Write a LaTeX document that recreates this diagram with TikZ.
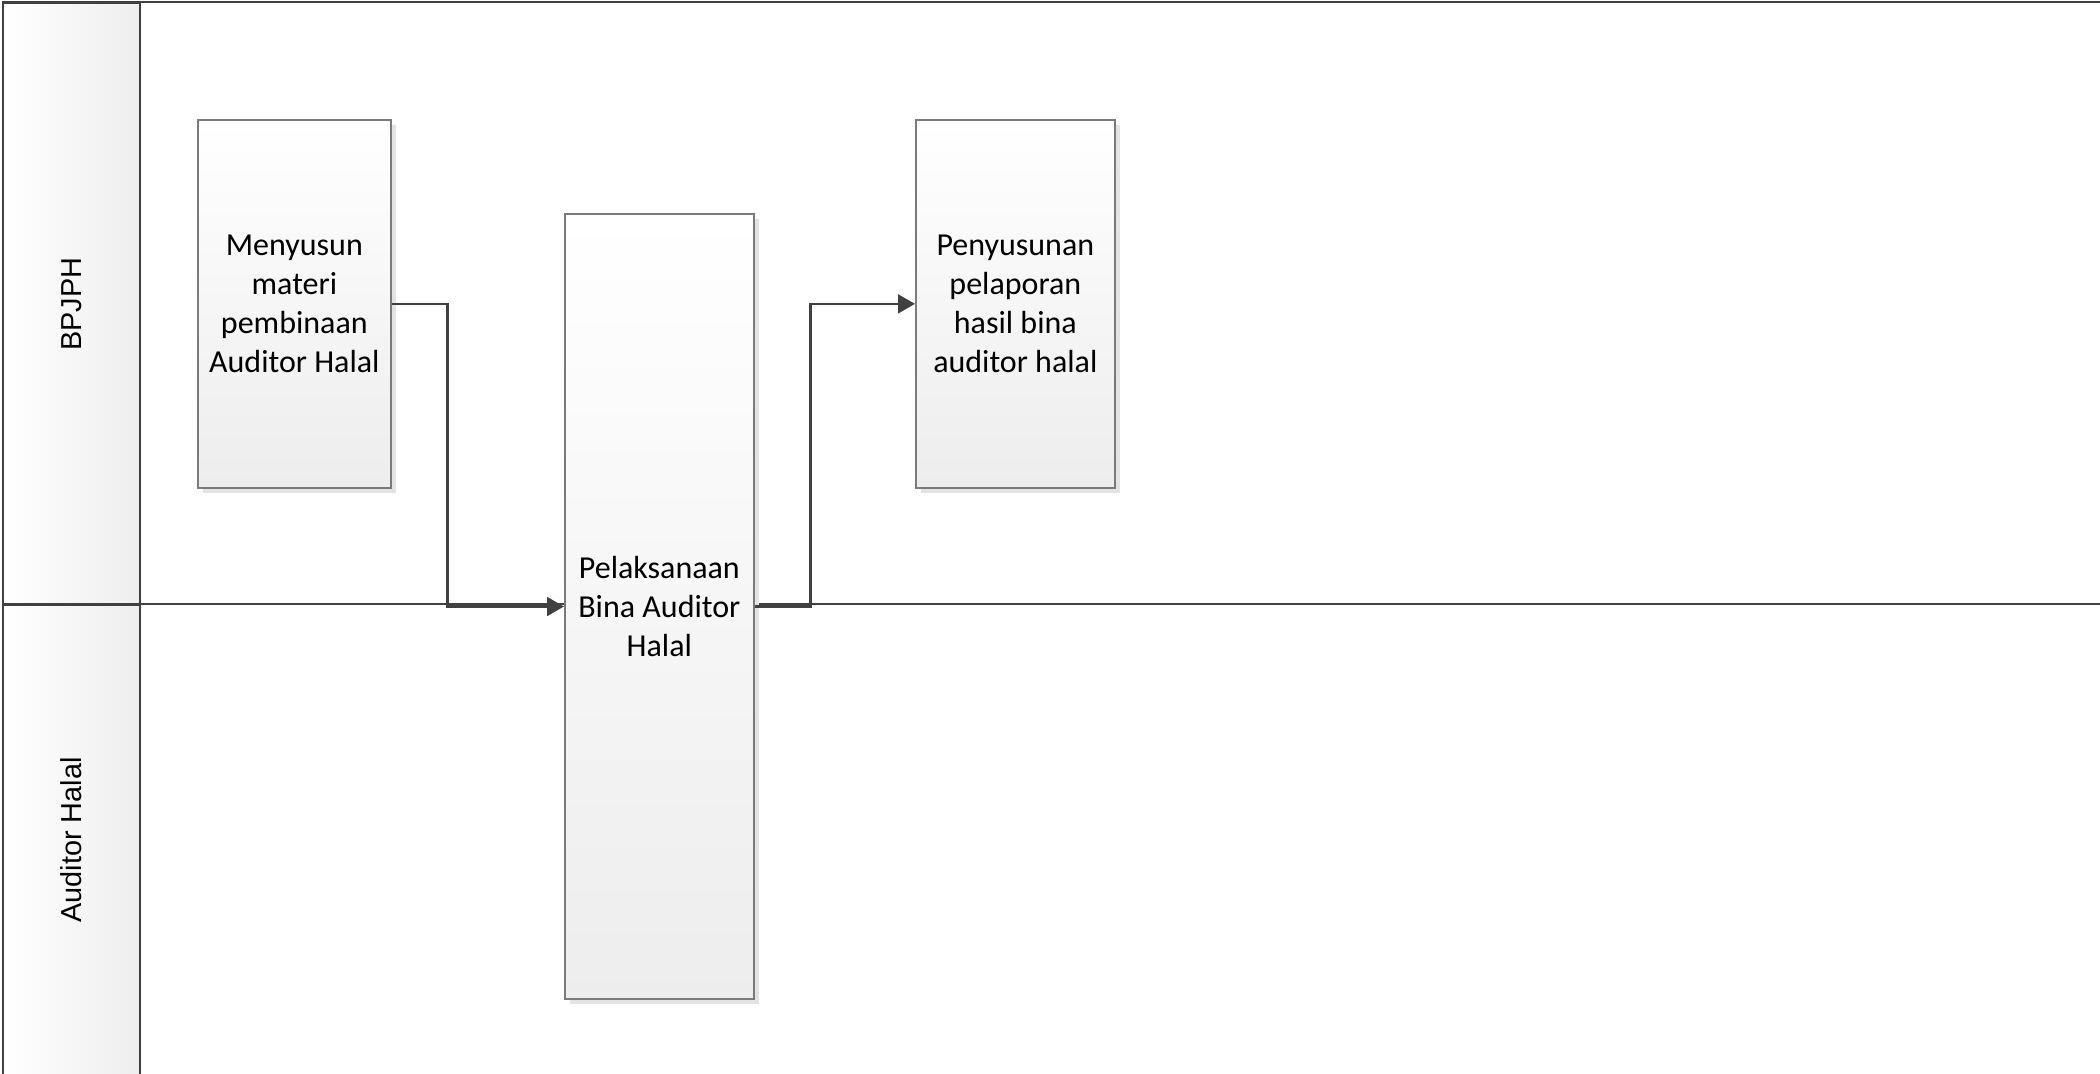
\documentclass[tikz,border=0pt]{standalone}
\usepackage{fontspec}
\setmainfont{Carlito}
\newfontfamily\lanefont{Liberation Sans}
\usepackage{tikz}
\usetikzlibrary{arrows.meta,positioning,shadows}
\definecolor{linegray}{HTML}{404040}
\definecolor{boxgray}{HTML}{7A7A7A}
\definecolor{boxfill}{HTML}{EDEDED}
\definecolor{lanegray}{HTML}{EEEEEE}
\definecolor{shadowgray}{HTML}{E3E3E3}

\begin{document}
\begin{tikzpicture}[
    x=0.01cm, y=-0.01cm,
    lane/.style={draw=linegray, line width=0.6pt, left color=white, right color=lanegray, minimum width=1.37cm, inner sep=0pt, anchor=north west},
    lanetext/.style={rotate=90, font=\lanefont\fontsize{8.2}{10}\selectfont},
    task/.style={draw=boxgray, line width=0.45pt, top color=white, bottom color=boxfill, align=center, inner sep=0pt, anchor=north west,
      font=\fontsize{9.1}{11.1}\selectfont,
      drop shadow={shadow xshift=0.05cm, shadow yshift=-0.05cm, fill=shadowgray, opacity=1}},
    arr/.style={-{Triangle[length=4.8pt, width=5.3pt]}, line width=0.75pt, draw=linegray}
  ]
    \useasboundingbox (0,0) rectangle (2100,1074);
    \clip (0,0) rectangle (2100,1074);

    % swimlanes
    \node[lane, minimum height=6.02cm] (bpjph) at (2,2) {};
    \node[lane, minimum height=4.8cm] (auditor) at (2,604) {};
    \node[lanetext] (bpjphlbl) at (bpjph.center) {BPJPH};
    \node[lanetext] (auditorlbl) at (71,840) {Auditor Halal};
    \draw[draw=linegray, line width=0.6pt] (bpjph.north west) -- (2100,2);
    \draw[draw=linegray, line width=0.6pt] (auditor.north west) -- (2100,604);

    % tasks
    \node[task, minimum width=1.93cm, minimum height=3.68cm] (menyusun) at (197,119) {Menyusun\\materi\\pembinaan\\Auditor Halal};
    \node[task, minimum width=1.89cm, minimum height=7.85cm] (pelaksanaan) at (564,213) {Pelaksanaan\\Bina Auditor\\Halal};
    \node[task, minimum width=1.99cm, minimum height=3.68cm] (penyusunan) at (915,119) {Penyusunan\\pelaporan\\hasil bina\\auditor halal};

    \draw[arr] (menyusun.east) -- ++(56,0) |- (pelaksanaan.west);
    \draw[arr] (pelaksanaan.east) -- ++(56,0) |- (penyusunan.west);
  \end{tikzpicture}
\end{document}
